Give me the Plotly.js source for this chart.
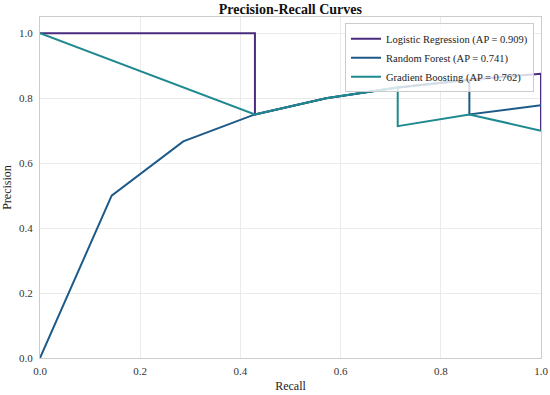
<!DOCTYPE html>
<html>
<head>
<meta charset="utf-8">
<script src="https://cdn.plot.ly/plotly-3.0.1.min.js"></script>
<style>html,body{margin:0;padding:0;background:#fff;}#chart{width:550px;height:395px;}</style>
</head>
<body>
<div id="chart"></div>
<script>
// Logistic Regression
const lrRecall    = [1.0, 1.0, 0.857, 0.714, 0.571, 0.429, 0.429, 0.286, 0.143, 0.0];
const lrPrecision = [0.7, 0.875, 0.857, 0.833, 0.8, 0.75, 1.0, 1.0, 1.0, 1.0];
// Random Forest
const rfRecall    = [1.0, 0.857, 0.857, 0.714, 0.571, 0.429, 0.286, 0.143, 0.0];
const rfPrecision = [0.778, 0.75, 0.857, 0.833, 0.8, 0.75, 0.667, 0.5, 0.0];
// Gradient Boosting
const gbRecall    = [1.0, 0.857, 0.714, 0.714, 0.571, 0.429, 0.0];
const gbPrecision = [0.7, 0.75, 0.714, 0.833, 0.8, 0.75, 1.0];

const names = ["Logistic Regression (AP = 0.909)", "Random Forest (AP = 0.741)", "Gradient Boosting (AP = 0.762)"];
const colors = ["#4a2b7d", "#1e5a88", "#1f8990"];
const tickVals = [0, 0.2, 0.4, 0.6, 0.8, 1.0];
const tickText = ["0.0", "0.2", "0.4", "0.6", "0.8", "1.0"];

const traces = [
  {x: lrRecall, y: lrPrecision, name: names[0], color: colors[0]},
  {x: rfRecall, y: rfPrecision, name: names[1], color: colors[1]},
  {x: gbRecall, y: gbPrecision, name: names[2], color: colors[2]}
].map(t => ({x: t.x, y: t.y, name: t.name, type: "scatter", mode: "lines",
  line: {color: t.color, width: 2}}));

const font = "Liberation Serif, Times New Roman, serif";
const layout = {
  width: 550, height: 395,
  margin: {l: 40, r: 9, t: 17, b: 37},
  paper_bgcolor: "#fff", plot_bgcolor: "#fff",
  font: {family: font, size: 11, color: "#333"},
  title: {text: "<b>Precision-Recall Curves</b>", font: {family: font, size: 14, color: "#111"},
          x: 0.528, xanchor: "center", y: 0.977, yanchor: "middle"},
  xaxis: {range: [0, 1], tickvals: tickVals, ticktext: tickText,
          showgrid: true, gridcolor: "#ebebeb", zeroline: false, showline: true, linecolor: "#cccccc", linewidth: 1,
          mirror: true, ticks: "outside", ticklen: 3, tickcolor: "rgba(0,0,0,0)", tickfont: {size: 11, color: "#333"},
          title: {text: "Recall", font: {size: 12, color: "#222"}, standoff: 5}},
  yaxis: {range: [0, 1.05], tickvals: tickVals, ticktext: tickText,
          showgrid: true, gridcolor: "#ebebeb", zeroline: false, showline: true, linecolor: "#cccccc", linewidth: 1,
          mirror: true, ticks: "outside", ticklen: 4, tickcolor: "rgba(0,0,0,0)", tickfont: {size: 11, color: "#333"},
          title: {text: "Precision", font: {size: 12, color: "#222"}, standoff: 4}},
  legend: {x: 0.986, y: 0.982, xanchor: "right", yanchor: "top", bgcolor: "rgba(255,255,255,0.8)",
           bordercolor: "#cccccc", borderwidth: 1, font: {size: 10.5, color: "#222"}, tracegroupgap: 0},
  showlegend: true
};

Plotly.newPlot("chart", traces, layout, {displayModeBar: false, staticPlot: true});
</script>
</body>
</html>
